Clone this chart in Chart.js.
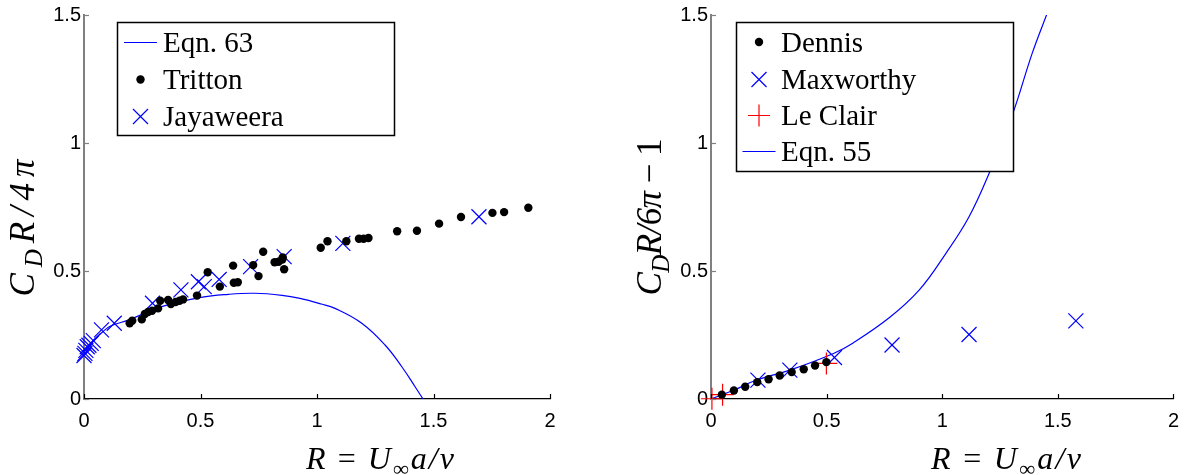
<!DOCTYPE html>
<html>
<head>
<meta charset="utf-8">
<script src="https://cdn.jsdelivr.net/npm/chart.js@4.4.1/dist/chart.umd.min.js"></script>
<style>
html, body { margin: 0; padding: 0; background: #fff; }
#wrap { position: relative; width: 1189px; height: 475px; overflow: hidden; }
canvas { position: absolute; top: 0; }
</style>
</head>
<body>
<div id="wrap">
  <canvas id="leftChart" width="595" height="475" style="left:0"></canvas>
  <canvas id="rightChart" width="594" height="475" style="left:595px"></canvas>
</div>
<script>
// axis ticks
const xTickValues = [0, 0.5, 1, 1.5, 2];
const xTickLabels = ["0", "0.5", "1", "1.5", "2"];
const yTickValues = [0, 0.5, 1, 1.5];
const yTickLabels = ["0", "0.5", "1", "1.5"];

// left panel: C_D R / 4pi
const eqn63R = [0.005, 0.02, 0.042, 0.08, 0.114, 0.193, 0.33, 0.502, 0.62, 0.732, 0.85, 0.927, 1.019, 1.077, 1.192, 1.292, 1.364, 1.421, 1.455];
const eqn63C = [0.175, 0.2, 0.23, 0.262, 0.285, 0.309, 0.36, 0.397, 0.409, 0.413, 0.405, 0.393, 0.371, 0.354, 0.296, 0.211, 0.126, 0.048, 0.0];

const trittonR = [0.196, 0.207, 0.248, 0.261, 0.275, 0.292, 0.318, 0.327, 0.361, 0.373, 0.393, 0.410, 0.425, 0.485, 0.531, 0.583,
                  0.640, 0.643, 0.660, 0.726, 0.749, 0.769, 0.818, 0.835, 0.851, 0.853, 0.859, 1.016, 1.045, 1.126, 1.180,
                  1.200, 1.221, 1.344, 1.429, 1.524, 1.618, 1.753, 1.803, 1.907];
const trittonC = [0.296, 0.306, 0.311, 0.332, 0.340, 0.345, 0.354, 0.384, 0.387, 0.371, 0.379, 0.384, 0.389, 0.404, 0.495, 0.439,
                  0.521, 0.454, 0.456, 0.523, 0.480, 0.575, 0.534, 0.536, 0.545, 0.553, 0.507, 0.591, 0.616, 0.616, 0.626,
                  0.626, 0.629, 0.655, 0.657, 0.685, 0.711, 0.727, 0.730, 0.747];

const jayaweeraR = [0.0, 0.004, 0.008, 0.014, 0.021, 0.031, 0.040, 0.075, 0.130, 0.294, 0.416, 0.491, 0.516, 0.580, 0.715, 0.859, 1.111, 1.695];
const jayaweeraC = [0.17, 0.178, 0.19, 0.204, 0.21, 0.217, 0.228, 0.27, 0.296, 0.374, 0.426, 0.458, 0.439, 0.467, 0.517, 0.556, 0.608, 0.712];

// right panel: C_D R / 6pi - 1
const dennisR = [0.047, 0.099, 0.148, 0.200, 0.249, 0.297, 0.349, 0.401, 0.450, 0.499];
const dennisC = [0.017, 0.033, 0.048, 0.066, 0.077, 0.092, 0.105, 0.116, 0.131, 0.144];

const maxworthyR = [0.203, 0.341, 0.534, 0.783, 1.116, 1.578];
const maxworthyC = [0.074, 0.113, 0.162, 0.211, 0.252, 0.305];

const leClairR = [0.004, 0.05, 0.499];
const leClairC = [0.001, 0.017, 0.139];

const eqn55R = [0, 0.1, 0.197, 0.341, 0.53, 0.613, 0.772, 0.901, 1.016, 1.116, 1.203, 1.303, 1.389, 1.454];
const eqn55C = [0, 0.035, 0.074, 0.113, 0.178, 0.218, 0.318, 0.426, 0.569, 0.712, 0.882, 1.109, 1.35, 1.507];

function pairs(xs, ys) {
    return xs.map((x, i) => ({ x: x, y: ys[i] }));
}

const SERIF = '"Liberation Serif", "Times New Roman", serif';
const BLUE = "#0000ff";

// small tick marks pointing into the plot
const inwardTicks = {
    id: "inwardTicks",
    afterDraw(chart) {
        const ctx = chart.ctx;
        const xs = chart.scales.x, ys = chart.scales.y;
        const area = chart.chartArea;
        ctx.save();
        ctx.lineWidth = 1.2;
        ctx.strokeStyle = "#000";
        xTickValues.forEach(v => {
            const px = Math.round(xs.getPixelForValue(v)) + 0.5;
            ctx.beginPath();
            ctx.moveTo(px, area.bottom);
            ctx.lineTo(px, area.bottom - 5);
            ctx.stroke();
        });
        ctx.strokeStyle = "#808080";
        yTickValues.forEach(v => {
            const py = Math.round(ys.getPixelForValue(v)) + 0.5;
            ctx.beginPath();
            ctx.moveTo(area.left, py);
            ctx.lineTo(area.left + 5, py);
            ctx.stroke();
        });
        ctx.restore();
    }
};

function drawSymbol(ctx, kind, x, y) {
    ctx.save();
    ctx.lineWidth = 1.2;
    if (kind === "line") {
        ctx.strokeStyle = BLUE;
        ctx.beginPath(); ctx.moveTo(x - 16.5, y); ctx.lineTo(x + 16.5, y); ctx.stroke();
    } else if (kind === "dot") {
        ctx.fillStyle = "#000";
        ctx.beginPath(); ctx.arc(x, y, 4.2, 0, Math.PI * 2); ctx.fill();
    } else if (kind === "x") {
        ctx.strokeStyle = BLUE;
        ctx.beginPath();
        ctx.moveTo(x - 7.5, y - 7.5); ctx.lineTo(x + 7.5, y + 7.5);
        ctx.moveTo(x - 7.5, y + 7.5); ctx.lineTo(x + 7.5, y - 7.5);
        ctx.stroke();
    } else if (kind === "plus") {
        ctx.strokeStyle = "#ff0000";
        ctx.beginPath();
        ctx.moveTo(x - 11, y); ctx.lineTo(x + 11, y);
        ctx.moveTo(x, y - 11); ctx.lineTo(x, y + 11);
        ctx.stroke();
    }
    ctx.restore();
}

// boxed legend sitting inside the plot, drawn over the data
const boxLegend = {
    id: "boxLegend",
    afterDatasetsDraw(chart, args, opts) {
        const ctx = chart.ctx;
        ctx.save();
        ctx.fillStyle = "#fff";
        ctx.fillRect(opts.left, opts.top, opts.width, opts.height);
        ctx.strokeStyle = "#000";
        ctx.lineWidth = 1.5;
        ctx.strokeRect(opts.left, opts.top, opts.width, opts.height);
        ctx.font = "29px " + SERIF;
        ctx.fillStyle = "#000";
        ctx.textBaseline = "alphabetic";
        opts.items.forEach((item, i) => {
            drawSymbol(ctx, item.kind, opts.symbolX, opts.rowY[i]);
            ctx.fillText(item.label, opts.textX, opts.rowY[i] + 9.5);
        });
        ctx.restore();
    }
};

// math-style text: [text, style] with style i (italic), r (roman), s (italic subscript)
function drawMath(ctx, parts, size, width) {
    const glyphs = [];
    parts.forEach(([text, style]) => {
        for (const ch of text) glyphs.push({ ch: ch, style: style });
    });
    const fontFor = s => s === "r" ? size + "px " + SERIF
        : s === "s" ? "italic " + Math.round(size * 0.7) + "px " + SERIF
        : "italic " + size + "px " + SERIF;
    let natural = 0;
    glyphs.forEach(g => {
        ctx.font = fontFor(g.style);
        g.w = ctx.measureText(g.ch).width;
        natural += g.w;
    });
    const gap = glyphs.length > 1 ? (width - natural) / (glyphs.length - 1) : 0;
    let x = -width / 2;
    glyphs.forEach(g => {
        ctx.font = fontFor(g.style);
        ctx.fillText(g.ch, x, g.style === "s" ? size * 0.22 : 0);
        x += g.w + gap;
    });
}

const mathTitles = {
    id: "mathTitles",
    afterDraw(chart, args, opts) {
        const ctx = chart.ctx;
        ctx.save();
        ctx.fillStyle = "#000";
        ctx.textBaseline = "alphabetic";
        ctx.textAlign = "left";
        ctx.save();
        ctx.translate(opts.xTitleX, opts.xTitleY);
        drawMath(ctx, opts.xParts, 32, opts.xWidth);
        ctx.restore();
        ctx.save();
        ctx.translate(opts.yTitleX, opts.yTitleY);
        ctx.rotate(-Math.PI / 2);
        drawMath(ctx, opts.yParts, 35, opts.yWidth);
        ctx.restore();
        ctx.restore();
    }
};

function makeScales(yAxisWidth) {
    const tickFont = { family: '"Liberation Sans", Arial, sans-serif', size: 20 };
    return {
        x: {
            type: "linear", min: 0, max: 2,
            afterBuildTicks: s => { s.ticks = xTickValues.map(v => ({ value: v })); },
            ticks: {
                font: tickFont, color: "#000", padding: 10, maxRotation: 0, autoSkip: false,
                callback: v => xTickLabels[xTickValues.indexOf(v)]
            },
            grid: { display: false, drawTicks: false },
            border: { display: true, color: "#000", width: 1.2 },
            afterFit: s => { s.height = 76; }
        },
        y: {
            type: "linear", min: 0, max: 1.5,
            afterBuildTicks: s => { s.ticks = yTickValues.map(v => ({ value: v })); },
            ticks: {
                font: tickFont, color: "#000", padding: 3, autoSkip: false,
                callback: v => yTickLabels[yTickValues.indexOf(v)]
            },
            grid: { display: false, drawTicks: false },
            border: { display: true, color: "#808080", width: 2 },
            afterFit: s => { s.width = yAxisWidth; }
        }
    };
}

const dotStyle = { pointStyle: "circle", pointRadius: 4.2, backgroundColor: "#000", borderColor: "#000", borderWidth: 0, showLine: false, clip: false };
const xStyle = { pointStyle: "crossRot", pointRadius: 10.6, borderColor: BLUE, backgroundColor: BLUE, borderWidth: 1.2, showLine: false, clip: false };
const plusStyle = { pointStyle: "cross", pointRadius: 11, borderColor: "#ff0000", backgroundColor: "#ff0000", borderWidth: 1.2, showLine: false, clip: false };
const lineStyle = { showLine: true, pointRadius: 0, borderColor: BLUE, borderWidth: 1.2, tension: 0.4, fill: false };

const common = {
    responsive: false,
    animation: false,
    devicePixelRatio: 1,
    events: []
};

new Chart(document.getElementById("leftChart").getContext("2d"), {
    type: "scatter",
    data: {
        datasets: [
            Object.assign({ label: "Tritton", data: pairs(trittonR, trittonC) }, dotStyle),
            Object.assign({ label: "Jayaweera", data: pairs(jayaweeraR, jayaweeraC) }, xStyle),
            Object.assign({ label: "Eqn. 63", data: pairs(eqn63R, eqn63C) }, lineStyle)
        ]
    },
    options: Object.assign({}, common, {
        layout: { padding: { left: 0, right: 45, top: 15, bottom: 0 } },
        scales: makeScales(84),
        plugins: {
            legend: { display: false },
            tooltip: { enabled: false },
            boxLegend: {
                left: 117.5, top: 22.5, width: 277, height: 113,
                symbolX: 140.5, textX: 163, rowY: [42.5, 79.5, 116.5],
                items: [
                    { kind: "line", label: "Eqn. 63" },
                    { kind: "dot", label: "Tritton" },
                    { kind: "x", label: "Jayaweera" }
                ]
            },
            mathTitles: {
                xParts: [["R", "i"], [" = ", "r"], ["U", "i"], ["\u221e", "s"], ["a/\u03bd", "i"]],
                xTitleX: 380, xTitleY: 469, xWidth: 148,
                yParts: [["C", "i"], ["D", "s"], ["R/4\u03c0", "i"]],
                yTitleX: 34, yTitleY: 228, yWidth: 137
            }
        }
    }),
    plugins: [inwardTicks, boxLegend, mathTitles]
});

new Chart(document.getElementById("rightChart").getContext("2d"), {
    type: "scatter",
    data: {
        datasets: [
            Object.assign({ label: "Dennis", data: pairs(dennisR, dennisC) }, dotStyle),
            Object.assign({ label: "Maxworthy", data: pairs(maxworthyR, maxworthyC) }, xStyle),
            Object.assign({ label: "Le Clair", data: pairs(leClairR, leClairC) }, plusStyle),
            Object.assign({ label: "Eqn. 55", data: pairs(eqn55R, eqn55C) }, lineStyle)
        ]
    },
    options: Object.assign({}, common, {
        layout: { padding: { left: 0, right: 14, top: 15, bottom: 0 } },
        scales: makeScales(116),
        plugins: {
            legend: { display: false },
            tooltip: { enabled: false },
            boxLegend: {
                left: 141.5, top: 22.5, width: 277, height: 149,
                symbolX: 164, textX: 186, rowY: [42, 79.5, 115.5, 151.5],
                items: [
                    { kind: "dot", label: "Dennis" },
                    { kind: "x", label: "Maxworthy" },
                    { kind: "plus", label: "Le Clair" },
                    { kind: "line", label: "Eqn. 55" }
                ]
            },
            mathTitles: {
                xParts: [["R", "i"], [" = ", "r"], ["U", "i"], ["\u221e", "s"], ["a/\u03bd", "i"]],
                xTitleX: 411, xTitleY: 469, xWidth: 150,
                yParts: [["C", "i"], ["D", "s"], ["R/6\u03c0", "i"], [" \u2212 1", "r"]],
                yTitleX: 66, yTitleY: 217, yWidth: 157
            }
        }
    }),
    plugins: [inwardTicks, boxLegend, mathTitles]
});
</script>
</body>
</html>
